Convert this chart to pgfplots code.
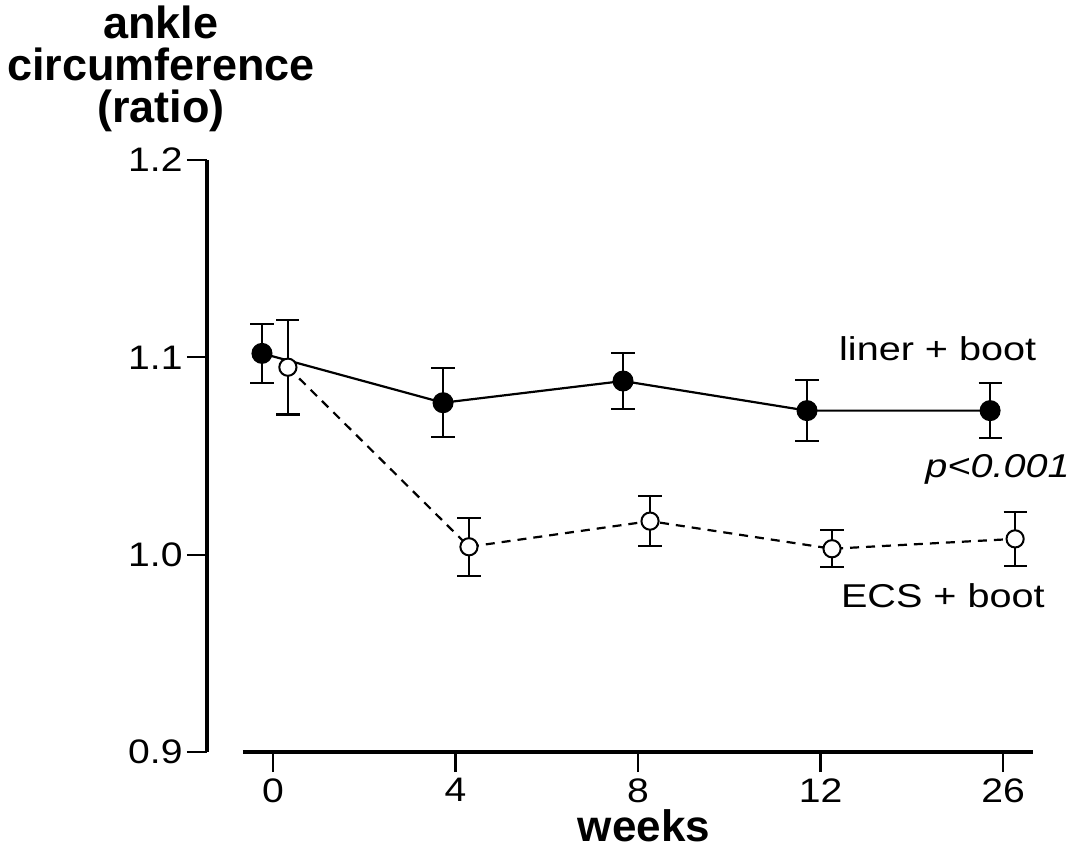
\documentclass[border=0pt]{standalone}
\usepackage{fontspec}
\setmainfont{Liberation Sans}
\newfontfamily\widefont[FakeStretch=1.2]{Liberation Sans}
\newfontfamily\tickfont[FakeStretch=1.15]{Liberation Sans}
\usepackage{pgfplots}
\pgfplotsset{compat=1.18}
\usepackage{pgfplotstable}

% means and error bars, x = category index with a small offset
\pgfplotstableread{
x y err
-0.060 1.102 0.015
0.932 1.077 0.0175
1.918 1.088 0.014
2.926 1.073 0.0155
3.929 1.073 0.014
}\linerboot
\pgfplotstableread{
x y err
0.082 1.095 0.024
1.074 1.004 0.0147
2.066 1.017 0.0127
3.063 1.003 0.0094
4.066 1.008 0.0137
}\ecsboot

\begin{document}
\begin{tikzpicture}
\path[use as bounding box] (-121.5pt,-48pt) rectangle (420pt,376pt);
\begin{axis}[
  at={(0,0)}, anchor=south west,
  scale only axis, width=395pt, height=296pt,
  xmin=-0.164, xmax=4.164, ymin=0.9, ymax=1.2,
  axis x line=bottom, axis y line=left,
  axis y line shift=18pt,
  axis line style={-, line width=2.3pt},
  xtick={0,1,2,3,4}, xticklabels={0,4,8,12,26},
  ytick={0.9,1.0,1.1,1.2},
  /pgf/number format/assume math mode=true,
  tick align=outside,
  major tick length=10pt,
  tick style={line width=1.1pt, black},
  tick label style={font=\tickfont\fontsize{17}{17}\selectfont},
  yticklabel style={inner sep=2pt, /pgf/number format/.cd, fixed, fixed zerofill, precision=1},
  xticklabel style={inner sep=3pt},
  xlabel={weeks},
  xlabel style={font=\bfseries\fontsize{22}{22}\selectfont, at={(axis description cs:0.5076,-0.1515)}, anchor=base, inner sep=0pt},
  ylabel={ankle\\circumference\\(ratio)},
  ylabel style={rotate=-90, align=center, font=\bfseries\fontsize{22.5}{21}\selectfont, at={(axis description cs:-0.1038,1.2618)}, anchor=north, inner sep=0pt},
  clip=false,
]
\addplot[black, line width=1.1pt, mark=*, mark size=4.7pt, mark options={solid, fill=black},
  error bars/.cd, y dir=both, y explicit,
  error bar style={line width=1.1pt, solid},
  error mark options={rotate=90, mark size=5.8pt, line width=1.1pt}]
  table[x=x, y=y, y error=err] {\linerboot};
\addplot[black, line width=1.1pt, dash pattern=on 4.5pt off 3.5pt, mark=*, mark size=4.3pt,
  mark options={solid, fill=white, draw=black, line width=1pt},
  error bars/.cd, y dir=both, y explicit,
  error bar style={line width=1.1pt, solid},
  error mark options={rotate=90, mark size=5.8pt, line width=1.1pt}]
  table[x=x, y=y, y error=err] {\ecsboot};
\node[anchor=base west, inner sep=0pt, font=\widefont\fontsize{16.5}{16.5}\selectfont] at (axis cs:3.100,1.0986) {liner + boot};
\node[anchor=base east, inner sep=0pt, font=\widefont\itshape\fontsize{16.5}{16.5}\selectfont] at (axis cs:4.367,1.0393) {p<0.001};
\node[anchor=base west, inner sep=0pt, font=\widefont\fontsize{16.5}{16.5}\selectfont] at (axis cs:3.110,0.9734) {ECS + boot};
\end{axis}
\end{tikzpicture}
\end{document}
